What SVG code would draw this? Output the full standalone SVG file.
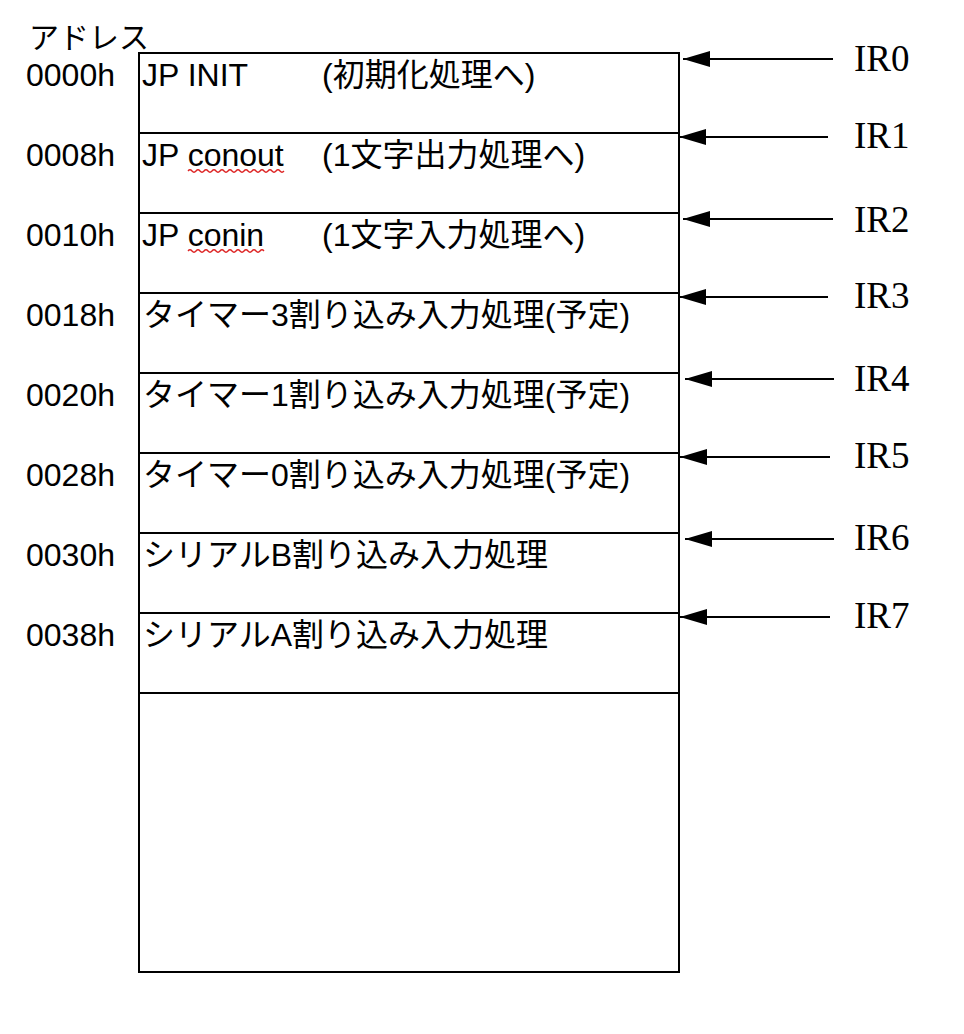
<svg xmlns="http://www.w3.org/2000/svg" width="964" height="1034" viewBox="0 0 964 1034">
<style>
.bg{fill:#ffffff}
.cell{fill:none;stroke:#000;stroke-width:2}
.t{font-family:"Liberation Sans","Noto Sans CJK JP",sans-serif;font-size:32px;fill:#000}
.h{font-family:"Noto Sans CJK JP","Liberation Sans",sans-serif;font-size:30px;fill:#000}
.ir{font-family:"Liberation Serif","DejaVu Serif",serif;font-size:37px;fill:#000}
.arr{stroke:#000;stroke-width:2;fill:none;marker-end:url(#ah)}
.sq{fill:none;stroke:#d22;stroke-width:1.3}
</style>
<defs>
<marker id="ah" markerUnits="userSpaceOnUse" markerWidth="28" markerHeight="18" refX="27" refY="8" orient="auto">
<path d="M0,0 L27,8 L0,16 z" fill="#000"/>
</marker>
</defs>
<rect class="bg" x="0" y="0" width="964" height="1034"/>
<text class="h" x="29" y="48">アドレス</text>

<g id="row0">
<rect class="cell" x="139" y="53" width="540" height="80"/>
<text class="t" x="26" y="86">0000h</text>
<text class="t" x="142" y="86">JP INIT</text>
<text class="t" x="322" y="86">(初期化処理へ)</text>
</g>
<g id="row1">
<rect class="cell" x="139" y="133" width="540" height="80"/>
<text class="t" x="26" y="166">0008h</text>
<text class="t" x="142" y="166">JP conout</text>
<text class="t" x="322" y="166">(1文字出力処理へ)</text>
<path class="sq" d="M188,171 q2,-2.5 4,0 t4,0 t4,0 t4,0 t4,0 t4,0 t4,0 t4,0 t4,0 t4,0 t4,0 t4,0 t4,0 t4,0 t4,0 t4,0 t4,0 t4,0 t4,0 t4,0 t4,0 t4,0 t4,0 t4,0"/>
</g>
<g id="row2">
<rect class="cell" x="139" y="213" width="540" height="80"/>
<text class="t" x="26" y="246">0010h</text>
<text class="t" x="142" y="246">JP conin</text>
<text class="t" x="322" y="246">(1文字入力処理へ)</text>
<path class="sq" d="M188,251 q2,-2.5 4,0 t4,0 t4,0 t4,0 t4,0 t4,0 t4,0 t4,0 t4,0 t4,0 t4,0 t4,0 t4,0 t4,0 t4,0 t4,0 t4,0 t4,0 t4,0"/>
</g>
<g id="row3">
<rect class="cell" x="139" y="293" width="540" height="80"/>
<text class="t" x="26" y="326">0018h</text>
<text class="t" x="143" y="326">タイマー3割り込み入力処理(予定)</text>
</g>
<g id="row4">
<rect class="cell" x="139" y="373" width="540" height="80"/>
<text class="t" x="26" y="406">0020h</text>
<text class="t" x="143" y="406">タイマー1割り込み入力処理(予定)</text>
</g>
<g id="row5">
<rect class="cell" x="139" y="453" width="540" height="80"/>
<text class="t" x="26" y="486">0028h</text>
<text class="t" x="143" y="486">タイマー0割り込み入力処理(予定)</text>
</g>
<g id="row6">
<rect class="cell" x="139" y="533" width="540" height="80"/>
<text class="t" x="26" y="566">0030h</text>
<text class="t" x="143" y="566">シリアルB割り込み入力処理</text>
</g>
<g id="row7">
<rect class="cell" x="139" y="613" width="540" height="80"/>
<text class="t" x="26" y="646">0038h</text>
<text class="t" x="143" y="646">シリアルA割り込み入力処理</text>
</g>
<g id="rest">
<rect class="cell" x="139" y="693" width="540" height="279"/>
</g>

<g id="ir0"><text class="ir" x="854" y="71">IR0</text></g>
<g id="ir1"><text class="ir" x="854" y="148">IR1</text></g>
<g id="ir2"><text class="ir" x="854" y="232">IR2</text></g>
<g id="ir3"><text class="ir" x="854" y="308">IR3</text></g>
<g id="ir4"><text class="ir" x="854" y="391">IR4</text></g>
<g id="ir5"><text class="ir" x="854" y="468">IR5</text></g>
<g id="ir6"><text class="ir" x="854" y="550">IR6</text></g>
<g id="ir7"><text class="ir" x="854" y="628">IR7</text></g>

<g id="connectors">
<line class="arr" x1="833" y1="59" x2="683" y2="59"/>
<line class="arr" x1="828" y1="137" x2="679" y2="137"/>
<line class="arr" x1="833" y1="219" x2="683" y2="219"/>
<line class="arr" x1="828" y1="297" x2="679" y2="297"/>
<line class="arr" x1="834" y1="379" x2="685" y2="379"/>
<line class="arr" x1="830" y1="457" x2="680" y2="457"/>
<line class="arr" x1="834" y1="539" x2="685" y2="539"/>
<line class="arr" x1="830" y1="617" x2="680" y2="617"/>
</g>
</svg>
